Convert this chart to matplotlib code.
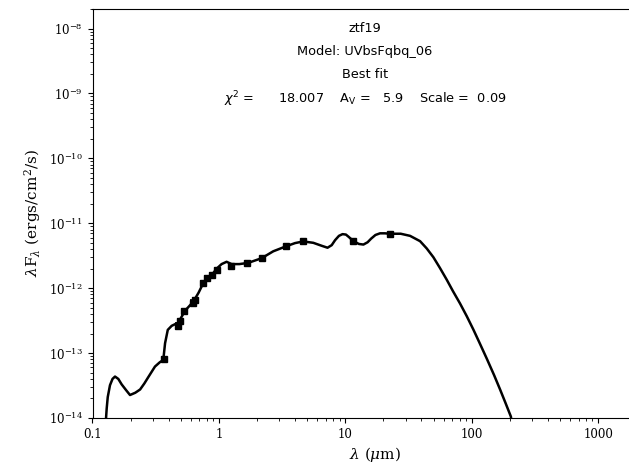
import numpy as np
import matplotlib
matplotlib.use("Agg")
import matplotlib.pyplot as plt

# best-fit model SED (wavelength in micron, lambda*F_lambda in erg/cm^2/s)
model_wave = [0.127, 0.1295, 0.132, 0.1375, 0.144, 0.1507, 0.160, 0.170, 0.184, 0.198,
              0.218, 0.238, 0.257, 0.276, 0.312, 0.340, 0.363, 0.375, 0.394, 0.423,
              0.477, 0.54, 0.627, 0.69, 0.753, 0.861, 0.96, 1.05, 1.15, 1.26,
              1.45, 1.70, 2.18, 2.69, 3.38, 4.0, 4.65, 5.58, 6.5, 7.23,
              7.8, 8.3, 8.9, 9.5, 10.1, 10.6, 11.6, 12.8, 13.9, 15.0,
              16.0, 17.3, 18.8, 20.5, 22.6, 27.4, 32.5, 39.0, 44.0, 49.7,
              56.0, 63.4, 71.0, 80.8, 91.3, 103, 115, 131.5, 150, 167.5,
              185, 204, 206]
model_flux = [8e-15, 1.4e-14, 2.1e-14, 3.2e-14, 4.0e-14, 4.35e-14, 4.0e-14, 3.3e-14, 2.7e-14, 2.26e-14,
              2.45e-14, 2.75e-14, 3.4e-14, 4.25e-14, 6.2e-14, 7.2e-14, 7.85e-14, 1.42e-13, 2.28e-13, 2.63e-13,
              2.95e-13, 4.5e-13, 6.2e-13, 8.5e-13, 1.2e-12, 1.52e-12, 2.0e-12, 2.35e-12, 2.55e-12, 2.35e-12,
              2.35e-12, 2.45e-12, 2.9e-12, 3.7e-12, 4.4e-12, 4.95e-12, 5.25e-12, 5.0e-12, 4.5e-12, 4.2e-12,
              4.6e-12, 5.5e-12, 6.4e-12, 6.8e-12, 6.7e-12, 6.2e-12, 5.3e-12, 4.8e-12, 4.7e-12, 5.1e-12,
              5.8e-12, 6.6e-12, 7.0e-12, 7.0e-12, 6.9e-12, 6.9e-12, 6.4e-12, 5.3e-12, 4.1e-12, 3.0e-12,
              2.05e-12, 1.35e-12, 9.0e-13, 5.8e-13, 3.7e-13, 2.3e-13, 1.45e-13, 8.2e-14, 4.6e-14, 2.75e-14,
              1.7e-14, 1.05e-14, 9.0e-15]

# observed photometry
obs_wave = [0.368, 0.475, 0.49, 0.532, 0.62, 0.65, 0.753, 0.80, 0.877, 0.96,
            1.24, 1.68, 2.18, 3.38, 4.65, 11.6, 22.6]
obs_flux = [8.1e-14, 2.6e-13, 3.1e-13, 4.5e-13, 6.0e-13, 6.5e-13, 1.2e-12, 1.43e-12, 1.6e-12, 1.92e-12,
            2.2e-12, 2.44e-12, 2.9e-12, 4.4e-12, 5.3e-12, 5.3e-12, 6.8e-12]
obs_err = [0.08, 0.1, 0.1, 0.08, 0.08, 0.08, 0.08, 0.08, 0.08, 0.08,
           0.06, 0.06, 0.06, 0.05, 0.05, 0.05, 0.05]

plt.rcParams['font.family'] = 'DejaVu Serif'
plt.rcParams['mathtext.fontset'] = 'dejavuserif'

fig = plt.figure(figsize=(6.29, 4.68), dpi=100)
ax = fig.add_axes([92.5 / 629, 50 / 468, 566 / 629, 409 / 468])

ax.plot(model_wave, model_flux, color='black', lw=1.8, solid_joinstyle='round')
obs_flux = np.array(obs_flux)
ax.errorbar(obs_wave, obs_flux, yerr=obs_flux * np.array(obs_err), fmt='s', color='black',
            ms=4.5, capsize=2.5, elinewidth=1.2, capthick=1.2)

ax.set_xscale('log')
ax.set_yscale('log')
ax.set_xlim(0.1, 3000)
ax.set_ylim(1e-14, 2e-8)
ax.set_xticks([0.1, 1, 10, 100, 1000])
ax.set_xticklabels(['0.1', '1', '10', '100', '1000'])
ax.tick_params(labelsize=8.5)
ax.set_xlabel(r'$\lambda$ ($\mu$m)', fontsize=11, labelpad=3)
ax.set_ylabel(r'$\lambda$F$_\lambda$ (ergs/cm$^2$/s)', fontsize=11)

# fit summary
cx = 365 / 629
for txt, y in [('ztf19', 28), ('Model: UVbsFqbq_06', 51), ('Best fit', 74),
               (r'$\chi^2$ =      18.007    A$_\mathrm{V}$ =   5.9    Scale =  0.09', 99)]:
    fig.text(cx, 1 - y / 468, txt, ha='center', va='center', fontsize=9.3,
             family='DejaVu Sans', math_fontfamily='dejavusans')

fig.savefig('out.png', dpi=100)
